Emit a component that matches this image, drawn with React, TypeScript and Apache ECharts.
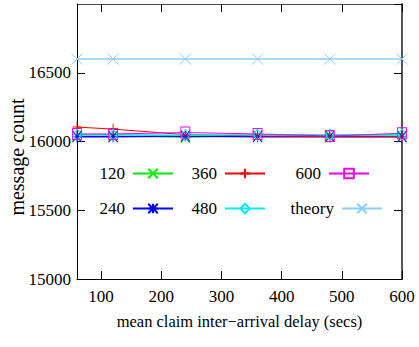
import React, { useEffect, useRef } from 'react';
import * as echarts from 'echarts';

const delays = [60, 120, 240, 360, 480, 600];
const s120 = [16040, 16040, 16030, 16040, 16045, 16040];
const s240 = [16035, 16035, 16040, 16035, 16035, 16035];
const s360 = [16105, 16090, 16050, 16040, 16035, 16035];
const s480 = [16050, 16050, 16045, 16050, 16050, 16050];
const s600 = [16055, 16055, 16065, 16055, 16040, 16060];
const theory = [16600, 16600, 16600, 16600, 16600, 16600];
const seriesNames = ['120', '240', '360', '480', '600', 'theory'];

const FONT = 'Liberation Serif';

const P_CROSS = 'path://M0,0L10,10M10,0L0,10';
const P_STAR = 'path://M0,0L10,10M10,0L0,10M5,0L5,10M0,5L10,5';
const P_PLUS = 'path://M5,0L5,10M0,5L10,5';
const P_DIAMOND = 'path://M5,0L10,5L5,10L0,5Z';
const P_SQUARE = 'path://M0,0L10,0L10,10L0,10Z';

export default function App() {
  const ref = useRef<HTMLDivElement>(null);
  useEffect(() => {
    if (!ref.current) return;
    const chart = echarts.init(ref.current, null, { renderer: 'svg' });
    const mk = (name: string, vals: number[], color: string, symbol: string, size: any, width: number) => ({
      name,
      type: 'line',
      data: delays.map((x, i) => [x, vals[i]]),
      symbol,
      symbolSize: size,
      showSymbol: true,
      lineStyle: { color, width },
      itemStyle: { color: 'rgba(0,0,0,0)', borderColor: color, borderWidth: 1 },
      emphasis: { disabled: true },
      xAxisIndex: 0,
      yAxisIndex: 0,
    });
    const colors = ['#00ee00', '#0000ff', '#ff0000', '#00eeee', '#ee00ee', '#87cefa'];
    const symbols = [P_CROSS, P_STAR, P_PLUS, P_DIAMOND, P_SQUARE, P_CROSS];
    const vals = [s120, s240, s360, s480, s600, theory];
    const sizes: any[] = [[9, 11], [9, 11], [9, 11], [9, 11], [9, 11], [11, 11]];
    const widths = [1, 1.5, 1, 1.5, 1, 1.5];
    const series = seriesNames.map((n, i) => mk(n, vals[i], colors[i], symbols[i], sizes[i], widths[i]));

    const legendRight: Record<string, number> = { '120': 245, '240': 245, '360': 153, '480': 153, '600': 49, theory: 36 };
    const legendTop: Record<string, number> = { '120': 165, '360': 165, '600': 165, '240': 200, '480': 200, theory: 200 };
    const legends = seriesNames.map((n) => ({
      data: [n],
      right: legendRight[n],
      top: legendTop[n],
      align: 'right',
      padding: 0,
      itemWidth: 40,
      itemHeight: 12,
      selectedMode: false,
      textStyle: { fontFamily: FONT, fontSize: 17, color: '#000', padding: [0, 3, 0, 0] },
    }));

    const axisCommon = {
      type: 'value',
      splitLine: { show: false },
      axisLine: { show: true, lineStyle: { color: '#000', width: 1 } },
      axisTick: { show: true, inside: true, length: 8, lineStyle: { color: '#000' } },
    };
    const fmt = (v: number) => String(v);

    chart.setOption({
      animation: false,
      backgroundColor: '#fff',
      grid: { left: 77, right: 17, top: 4, bottom: 68, containLabel: false, outerBoundsMode: 'none' },
      legend: legends,
      xAxis: [
        {
          ...axisCommon,
          position: 'bottom',
          min: 60,
          max: 600,
          axisLabel: { fontFamily: FONT, fontSize: 17, color: '#000', margin: 9, showMinLabel: false, formatter: fmt },
          name: 'mean claim inter\u2212arrival delay (secs)',
          nameLocation: 'middle',
          nameGap: 34,
          nameMoveOverlap: false,
          nameTextStyle: { fontFamily: FONT, fontSize: 16.5, color: '#000' },
        },
        {
          ...axisCommon,
          position: 'top',
          min: 60,
          max: 600,
          axisLabel: { show: false },
          axisLine: { show: true, lineStyle: { color: '#444', width: 1 } },
        },
      ],
      yAxis: [
        {
          ...axisCommon,
          position: 'left',
          min: 15000,
          max: 17000,
          interval: 500,
          axisLabel: { fontFamily: FONT, fontSize: 17, color: '#000', margin: 6, showMaxLabel: false, formatter: fmt },
          name: 'message count',
          nameLocation: 'middle',
          nameGap: 50,
          nameMoveOverlap: false,
          nameTextStyle: { fontFamily: FONT, fontSize: 20, color: '#000', padding: [0, 31, 0, 0] },
        },
        {
          ...axisCommon,
          position: 'right',
          min: 15000,
          max: 17000,
          interval: 500,
          axisLabel: { show: false },
          axisLine: { show: true, lineStyle: { color: '#555', width: 2 } },
        },
      ],
      series,
    });
    return () => chart.dispose();
  }, []);
  return <div ref={ref} style={{ position: 'fixed', left: 0, top: 0, width: 419, height: 347, background: '#fff' }} />;
}
